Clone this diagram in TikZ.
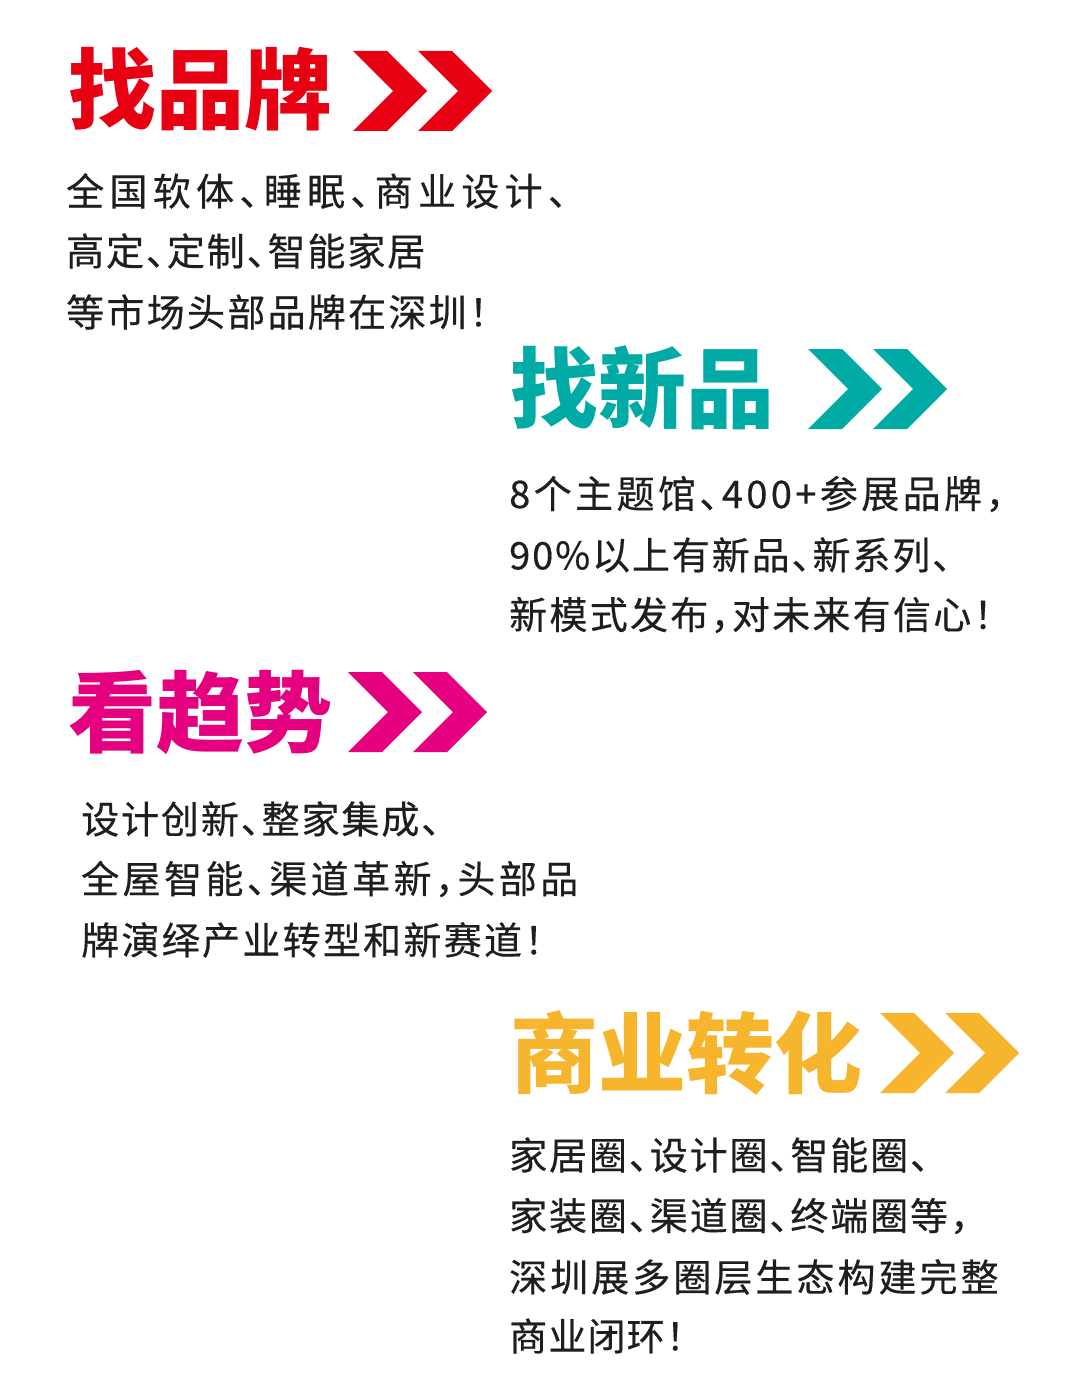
\documentclass[tikz,border=0pt]{standalone}
\usepackage{fontspec}
\newfontfamily\cjkbody[RawFeature=+halt,FakeBold=0.4]{Noto Sans CJK SC}
\newfontfamily\cjktitle{Noto Sans CJK SC}
\definecolor{cred}{HTML}{E60012}
\definecolor{cteal}{HTML}{00ABA5}
\definecolor{cmag}{HTML}{E4007F}
\definecolor{cyel}{HTML}{F7B52D}
\definecolor{ctext}{HTML}{1E1E1E}
\tikzset{
  titletext/.style={anchor=west,inner sep=0pt,font=\cjktitle\bfseries\fontsize{88pt}{88pt}\selectfont},
  bodytext/.style={anchor=west,inner sep=0pt,text=ctext,font=\cjkbody\fontsize{38pt}{38pt}\selectfont\addfontfeatures{LetterSpace=#1}},
  bodytext/.default=8,
  chev/.pic={\fill (0,-40) -- (34,-40) -- (74,0) -- (34,40) -- (0,40) -- (40,0) -- cycle;
             \fill (65,-40) -- (99,-40) -- (139,0) -- (99,40) -- (65,40) -- (105,0) -- cycle;}
}
\begin{document}
\begin{tikzpicture}[x=1pt,y=-1pt]
\useasboundingbox[fill=white] (0,0) rectangle (1080,1394);
% block 1
\node[titletext,text=cred] (t1) at (68,89) {找品牌};
\pic[cred] at (353,91) {chev};
\node[bodytext=14] (b1a) at (66,191) {全国软体、睡眠、商业设计、};
\node[bodytext=5] (b1b) at (66,251) {高定、定制、智能家居};
\node[bodytext=6] (b1c) at (66,312) {等市场头部品牌在深圳！};
% block 2
\node[titletext,text=cteal] (t2) at (510,388) {找新品};
\pic[cteal] at (808,389) {chev};
\node[bodytext=9] (b2a) at (509,494) {8个主题馆、400+参展品牌，};
\node[bodytext=5] (b2b) at (509,555) {90\%以上有新品、新系列、};
\node[bodytext=6] (b2c) at (509,615) {新模式发布，对未来有信心！};
% block 3
\node[titletext,text=cmag] (t3) at (68,712) {看趋势};
\pic[cmag] at (348,712) {chev};
\node[bodytext=5] (b3a) at (81,819) {设计创新、整家集成、};
\node[bodytext=9] (b3b) at (81,879) {全屋智能、渠道革新，头部品};
\node[bodytext=6] (b3c) at (81,940) {牌演绎产业转型和新赛道！};
% block 4
\node[titletext,text=cyel] (t4) at (510,1053) {商业转化};
\pic[cyel] at (880,1053) {chev};
\node[bodytext=5] (b4a) at (509,1155) {家居圈、设计圈、智能圈、};
\node[bodytext=5] (b4b) at (509,1216) {家装圈、渠道圈、终端圈等，};
\node[bodytext=8] (b4c) at (509,1277) {深圳展多圈层生态构建完整};
\node[bodytext=3] (b4d) at (509,1336) {商业闭环！};
\end{tikzpicture}
\end{document}
